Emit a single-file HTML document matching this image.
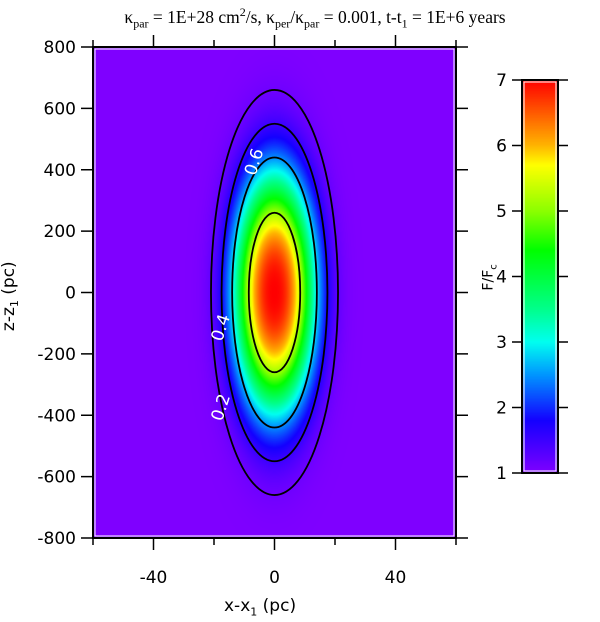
<!DOCTYPE html>
<html><head><meta charset="utf-8"><style>
body{margin:0;background:#fff;width:600px;height:622px;overflow:hidden;font-family:"Liberation Sans",sans-serif}
svg text{font-family:"DejaVu Sans","Liberation Sans",sans-serif}
</style></head><body>
<div style="position:relative;width:600px;height:622px">
<canvas id="field" width="363" height="491" style="position:absolute;left:93px;top:47px"></canvas>
<canvas id="cbar" width="36" height="393" style="position:absolute;left:522px;top:80px"></canvas>
<svg id="svg" width="600" height="622" style="position:absolute;left:0;top:0" xmlns="http://www.w3.org/2000/svg"></svg>
</div>
<script>
// data
const xTicks=[-40,0,40];
const xMinor=[-60,-20,20,60];
const yTicks=[-800,-600,-400,-200,0,200,400,600,800];
const cTicks=[1,2,3,4,5,6,7];
const peakValue=[7];
const sigmaX=[10];
const sigmaZ=[290];
const contourSemiX=[21,17.5,14,8.5];
const contourSemiZ=[660,550,440,260];
const contourLabels=["0.2","0.4","0.6"];
const labelPos=[[-16,-380],[-16,-120],[-5,420]];

const L=93,R=456,T=47,B=538;
const X=v=>L+(v+60)/120*(R-L);
const Y=v=>B-(v+800)/1600*(B-T);
const cT=80,cB=473;
const CY=v=>cB-(v-1)/6*(cB-cT);
const stops=[[1,[127,0,255]],[1.8,[20,0,255]],[2.5,[0,150,255]],[3,[0,255,240]],[3.5,[0,255,140]],[4.4,[0,255,0]],[5,[140,255,0]],[5.7,[255,255,0]],[6,[255,180,0]],[7,[255,0,0]]];
function cmap(v){v=Math.max(1,Math.min(7,v));for(let i=0;i<stops.length-1;i++){const a=stops[i],b=stops[i+1];if(v<=b[0]){const t=(v-a[0])/(b[0]-a[0]);return a[1].map((c,k)=>Math.round(c+(b[1][k]-c)*t));}}return stops[stops.length-1][1];}
// field
const fc=document.getElementById('field'),fx=fc.getContext('2d'),img=fx.createImageData(363,491);
for(let j=0;j<491;j++)for(let i=0;i<363;i++){
 const xv=-60+(i+0.5)/363*120, zv=800-(j+0.5)/491*1600;
 const r2=(xv/sigmaX[0])**2+(zv/sigmaZ[0])**2;
 const v=1+(peakValue[0]-1)*Math.exp(-Math.pow(r2,1.25)/2);
 const c=cmap(v),k=(j*363+i)*4;img.data[k]=c[0];img.data[k+1]=c[1];img.data[k+2]=c[2];img.data[k+3]=255;}
fx.putImageData(img,0,0);
const cc=document.getElementById('cbar'),cx=cc.getContext('2d');
for(let j=0;j<393;j++){const c=cmap(7-(j+0.5)/393*6);cx.fillStyle=`rgb(${c})`;cx.fillRect(0,j,36,1);}
// svg
const svg=document.getElementById('svg'),NS='http://www.w3.org/2000/svg';
function el(t,a,p){const e=document.createElementNS(NS,t);for(const k in a)e.setAttribute(k,a[k]);(p||svg).appendChild(e);return e;}
contourSemiX.forEach((sx,i)=>{
 const e=el('ellipse',{cx:X(0),cy:Y(0),rx:X(sx)-X(0),ry:Y(0)-Y(contourSemiZ[i]),fill:'none',stroke:'#000','stroke-width':1.8});
 
 
});
contourLabels.forEach((s,i)=>{
 const px=X(labelPos[i][0]),py=Y(labelPos[i][1]);
 const t=el('text',{x:px,y:py,fill:'#fff','font-size':17,'text-anchor':'middle',transform:`rotate(-72 ${px} ${py})`});
 t.textContent=s;
 
 
});
el('rect',{x:L,y:T,width:R-L,height:B-T,fill:'none',stroke:'#000','stroke-width':2});
el('rect',{x:L+2,y:T+2,width:R-L-4,height:B-T-4,fill:'none',stroke:'#fff','stroke-width':1});
xTicks.forEach(v=>{el('line',{x1:X(v),x2:X(v),y1:B,y2:B+12,stroke:'#000','stroke-width':1.5});el('line',{x1:X(v),x2:X(v),y1:T,y2:T-12,stroke:'#000','stroke-width':1.5});
 const t=el('text',{x:X(v),y:B+45,'font-size':17,'text-anchor':'middle'});t.textContent=v;
 
 });
xMinor.forEach(v=>{el('line',{x1:X(v),x2:X(v),y1:B,y2:B+7,stroke:'#000','stroke-width':1.5});el('line',{x1:X(v),x2:X(v),y1:T,y2:T-7,stroke:'#000','stroke-width':1.5});});
yTicks.forEach(v=>{el('line',{x1:L-12,x2:L,y1:Y(v),y2:Y(v),stroke:'#000','stroke-width':1.5});el('line',{x1:R,x2:R+12,y1:Y(v),y2:Y(v),stroke:'#000','stroke-width':1.5});
 const t=el('text',{x:L-17,y:Y(v)+6,'font-size':17,'text-anchor':'end'});t.textContent=v;
 
 });
el('rect',{x:522,y:cT,width:36,height:cB-cT,fill:'none',stroke:'#000','stroke-width':2});
el('rect',{x:524,y:cT+2,width:32,height:cB-cT-4,fill:'none',stroke:'#fff','stroke-width':1});
cTicks.forEach(v=>{el('line',{x1:512,x2:522,y1:CY(v),y2:CY(v),stroke:'#000','stroke-width':1.5});el('line',{x1:558,x2:568,y1:CY(v),y2:CY(v),stroke:'#000','stroke-width':1.5});
 const t=el('text',{x:507,y:CY(v)+6,'font-size':17,'text-anchor':'end'});t.textContent=v;
 
 });
</script>
<div style="position:absolute;left:0;width:630px;text-align:center;top:5px;font-family:'Liberation Serif',serif;font-size:17.5px">κ<sub style="font-size:12px">par</sub> = 1E+28 cm<sup style="font-size:12px">2</sup>/s, κ<sub style="font-size:12px">per</sub>/κ<sub style="font-size:12px">par</sub> = 0.001, t-t<sub style="font-size:12px">1</sub> = 1E+6 years</div>
<div style="position:absolute;left:224px;top:596px;font-size:17px;font-family:'DejaVu Sans',sans-serif">x-x<sub style="font-size:11px">1</sub> (pc)</div>
<div style="position:absolute;left:-30px;top:285px;width:80px;transform:rotate(-90deg);text-align:center;font-size:17px;font-family:'DejaVu Sans',sans-serif">z-z<sub style="font-size:11px">1</sub> (pc)</div>
<div style="position:absolute;left:465px;top:268px;width:50px;transform:rotate(-90deg);text-align:center;font-size:14px;font-family:'DejaVu Sans',sans-serif">F/F<sub style="font-size:10px">c</sub></div>
</body></html>
